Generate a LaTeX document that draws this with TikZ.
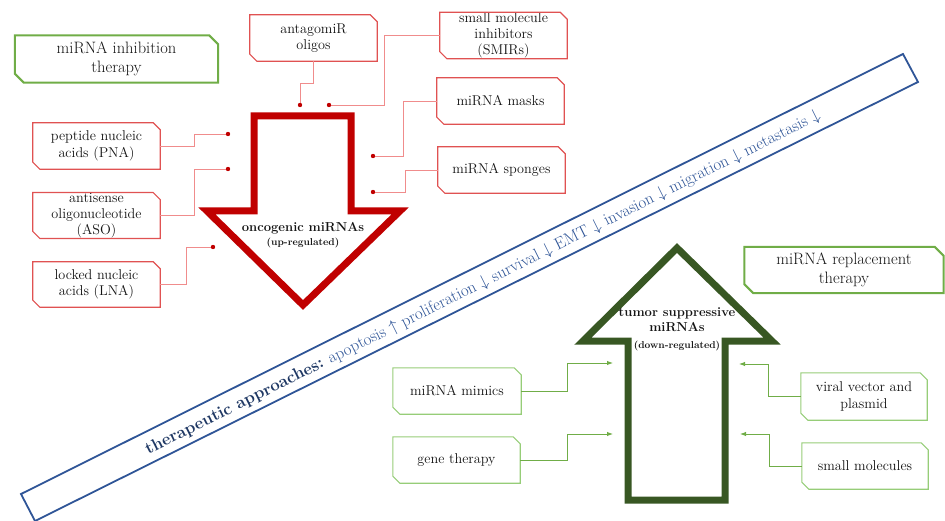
\documentclass[tikz,border=0pt]{standalone}
\usetikzlibrary{arrows.meta}
\definecolor{rbord}{RGB}{224,82,82}
\definecolor{rline}{RGB}{240,140,140}
\definecolor{dotc}{RGB}{192,0,0}
\definecolor{rarrow}{RGB}{192,0,0}
\definecolor{ghead}{RGB}{112,173,71}
\definecolor{gbord}{RGB}{150,205,120}
\definecolor{gline}{RGB}{112,173,71}
\definecolor{garrow}{RGB}{56,87,35}
\definecolor{bandc}{RGB}{47,85,151}
\definecolor{banddark}{RGB}{31,56,100}
\definecolor{txt}{RGB}{20,20,20}
\newcommand{\mychamf}[3]{\draw[#2] (#1.north west) -- ([xshift=-#3]#1.north east) -- ([yshift=-#3]#1.north east) -- (#1.south east) -- ([xshift=#3]#1.south west) -- ([yshift=#3]#1.south west) -- cycle;}
\tikzset{
  boxbase/.style={inner sep=0pt, align=center, text=txt, font=\fontsize{14.2}{16.3}\selectfont, minimum width=127pt, minimum height=46pt},
  headbox/.style={inner sep=0pt, align=center, text=txt, font=\fontsize{16.5}{19.5}\selectfont, minimum height=47pt},
  rborder/.style={rbord, line width=1.2pt},
  gborder/.style={gbord, line width=1.1pt},
  hborder/.style={ghead, line width=2pt},
  rconn/.style={rline, line width=0.9pt},
  gconn/.style={gline, line width=1pt, -{Latex[length=6pt,width=4.5pt]}},
  bigarrow/.style={line width=7pt, line join=miter, miter limit=10},
  arrowtxt/.style={font=\bfseries\fontsize{13}{15}\selectfont, text=txt, align=center, inner sep=0pt},
  smalltxt/.style={font=\bfseries\fontsize{10}{12}\selectfont, text=txt, inner sep=0pt}
}
\begin{document}
\begin{tikzpicture}[x=1pt,y=-1pt]
\useasboundingbox (0,0) rectangle (945,521);
% band
\draw[bandc, line width=1.8pt] (21,494) -- (903,54) -- (918,82) -- (35,521) -- cycle;
\node[rotate=26.5, text=bandc, font=\fontsize{16.8}{19}\selectfont, inner sep=0pt] (bt) at (483,283)
  {\textbf{\color{banddark}therapeutic approaches:} apoptosis $\uparrow$ proliferation $\downarrow$ survival $\downarrow$ EMT $\downarrow$ invasion $\downarrow$ migration $\downarrow$ metastasis $\downarrow$};
% heading boxes
\node[headbox, minimum width=203pt] (inh) at (116.5,59) {miRNA inhibition\\therapy};
\mychamf{inh}{hborder}{9pt}
\node[headbox, minimum width=199pt, minimum height=46pt] (rep) at (844,270) {miRNA replacement\\therapy};
\mychamf{rep}{hborder}{9pt}
% red boxes
\node[boxbase] (ant) at (313.5,38) {antagomiR\\oligos};
\node[boxbase, minimum height=45pt] (smir) at (503.5,35.5) {small molecule\\inhibitors\\(SMIRs)};
\node[boxbase] (mask) at (500.5,101) {miRNA masks};
\node[boxbase] (spong) at (501.5,170) {miRNA sponges};
\node[boxbase] (pna) at (96.5,146) {peptide nucleic\\acids (PNA)};
\node[boxbase, minimum height=45pt] (aso) at (96.5,215.5) {antisense\\oligonucleotide\\(ASO)};
\node[boxbase, minimum height=45pt] (lna) at (96.5,284.5) {locked nucleic\\acids (LNA)};
\foreach \n in {ant,smir,mask,spong,pna,aso,lna} {\mychamf{\n}{rborder}{7pt}}
% green boxes
\node[boxbase, minimum width=128pt] (mim) at (457,391) {miRNA mimics};
\node[boxbase, minimum width=127pt] (gene) at (456.5,460) {gene therapy};
\node[boxbase, minimum width=126pt, minimum height=47pt] (viral) at (864,396.5) {viral vector and\\plasmid};
\node[boxbase, minimum width=126pt] (smol) at (865,466) {small molecules};
\foreach \n in {mim,gene,viral,smol} {\mychamf{\n}{gborder}{7pt}}
% red arrow
\draw[rarrow, bigarrow] (254,116) -- (351,116) -- (351,211) -- (400,211) -- (303,305) -- (207,211) -- (254,211) -- cycle;
\node[arrowtxt] (onc) at (303,228) {oncogenic miRNAs};
\node[smalltxt] (up) at (303,243) {(up-regulated)};
% green arrow
\draw[garrow, bigarrow] (628,500) -- (725,500) -- (725,341) -- (772,341) -- (677,248) -- (583,341) -- (628,341) -- cycle;
\node[arrowtxt] (tum) at (677,320) {tumor suppressive\\miRNAs};
\node[smalltxt] (down) at (677,346) {(down-regulated)};
% red dots
\coordinate (d1) at (300,105);
\coordinate (d2) at (329,105);
\coordinate (d3) at (373,156);
\coordinate (d4) at (373,192);
\coordinate (d5) at (228,134);
\coordinate (d6) at (228,169);
\coordinate (d7) at (213,247);
\draw[rconn] (ant.south) -- ++(0,22) -| (d1);
\draw[rconn] (smir.west) -- ++(-55,0) |- (d2);
\draw[rconn] (mask.west) -- ++(-33,0) |- (d3);
\draw[rconn] (spong.west) -- ++(-32,0) |- (d4);
\draw[rconn] (pna.east) -- ++(34,0) |- (d5);
\draw[rconn] (aso.east) -- ++(34,0) |- (d6);
\draw[rconn] (lna.east) -- ++(26,0) |- (d7);
\foreach \d in {d1,d2,d3,d4,d5,d6,d7} {\fill[dotc] (\d) circle (2.2pt);}
% green connectors
\coordinate (g1) at (613,363);
\coordinate (g2) at (613,434);
\coordinate (g3) at (739,364);
\coordinate (g4) at (740,434);
\draw[gconn] (mim.east) -- ++(46,0) |- (g1);
\draw[gconn] (gene.east) -- ++(47,0) |- (g2);
\draw[gconn] (viral.west) -- ++(-32,0) |- (g3);
\draw[gconn] (smol.west) -- ++(-32,0) |- (g4);
\end{tikzpicture}
\end{document}
